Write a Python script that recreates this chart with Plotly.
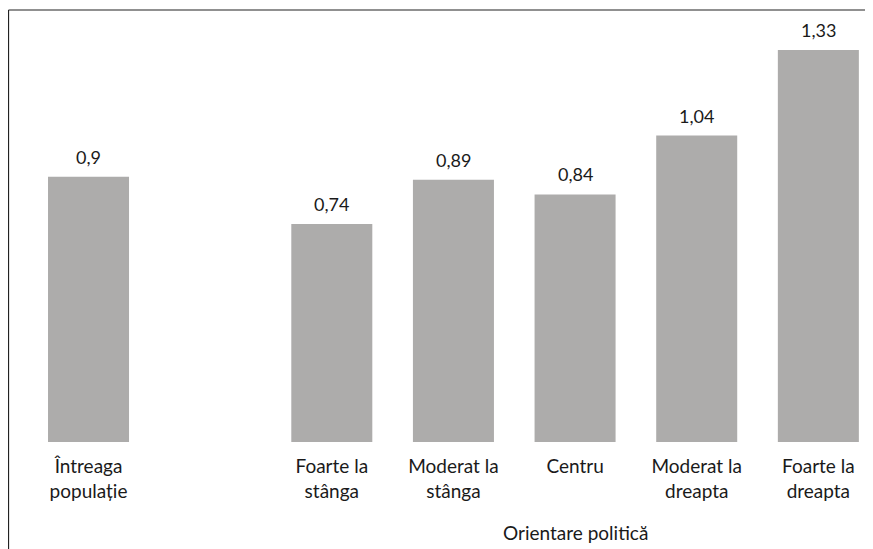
import plotly.graph_objects as go

categories = ["Întreaga<br>populație", " ", "Foarte la<br>stânga", "Moderat la<br>stânga",
              "Centru", "Moderat la<br>dreapta", "Foarte la<br>dreapta"]
values = [0.9, None, 0.74, 0.89, 0.84, 1.04, 1.33]
axis_title = "Orientare politică"

labels = [("" if v is None else str(v).replace(".", ",")) for v in values]

FONT = "Lato, Carlito, Calibri, sans-serif"
TXT = "#1a1a1a"

fig = go.Figure()
fig.add_trace(go.Bar(
    x=categories, y=values,
    marker=dict(color="#adacab", line=dict(width=0)),
    hoverinfo="skip",
))

for c, v, t in zip(categories, values, labels):
    if v is None:
        continue
    fig.add_annotation(x=c, y=v, text=t, showarrow=False, yanchor="bottom",
                       yshift=7, font=dict(family=FONT, size=18, color=TXT))

fig.add_annotation(x="Centru", y=0, yref="y", text=axis_title, showarrow=False,
                   yanchor="middle", yshift=-90, font=dict(family=FONT, size=19, color=TXT))

# frame lines (left and top)
fig.add_shape(type="line", xref="paper", yref="paper", x0=0.0006, x1=1.05, y0=1, y1=1,
              line=dict(color="#222222", width=1.2))
fig.add_shape(type="line", xref="paper", yref="paper", x0=0.0006, x1=0.0006, y0=1, y1=-0.4,
              line=dict(color="#222222", width=1.2))

fig.update_layout(
    width=873, height=549,
    margin=dict(l=0, r=0, t=2, b=115),
    paper_bgcolor="white", plot_bgcolor="white",
    bargap=0.334,
    showlegend=False,
    font=dict(family=FONT, size=19, color=TXT),
    xaxis=dict(type="category", categoryorder="array", categoryarray=categories,
               range=[-0.662, 6.515], showline=False, showgrid=False, ticks="",
               ticklabelstandoff=11,
               tickfont=dict(family=FONT, size=19, color=TXT), fixedrange=True),
    yaxis=dict(range=[0, 1.466], visible=False, showgrid=False, zeroline=False, fixedrange=True),
)

fig.write_html("out.html")
